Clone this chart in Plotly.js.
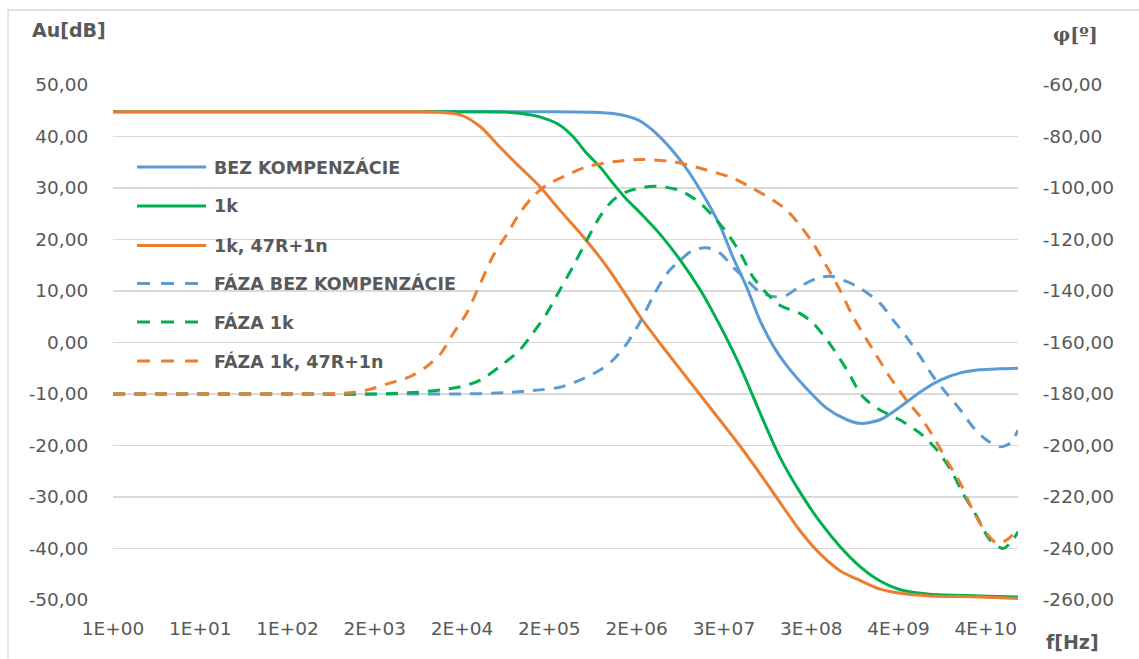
<!DOCTYPE html>
<html>
<head>
<meta charset="utf-8">
<script src="https://cdn.plot.ly/plotly-3.0.1.min.js"></script>
<style>html,body{margin:0;padding:0;background:#fff;}#chart{width:1139px;height:659px;}</style>
</head>
<body>
<div id="chart"></div>
<script>
// ---- data (x = category position along the frequency axis, one unit per tick label) ----
const freqLabels = ['1E+00','1E+01','1E+02','2E+03','2E+04','2E+05','2E+06','3E+07','3E+08','4E+09','4E+10'];
const freqPos = [0,1,2,3,4,5,6,7,8,9,10];

const seriesNames = ['BEZ KOMPENZÁCIE','1k','1k, 47R+1n','FÁZA BEZ KOMPENZÁCIE','FÁZA 1k','FÁZA 1k, 47R+1n'];

// Gain [dB]
const gainBezX = [0,1,2,3,4,5.0,5.5,5.75,5.9,6.04,6.23,6.50,6.73,6.96,7.10,7.26,7.41,7.57,7.72,7.95,8.18,8.41,8.56,8.79,9.02,9.25,9.48,9.71,9.93,10.16,10.37];
const gainBezY = [44.8,44.8,44.8,44.8,44.8,44.8,44.7,44.4,43.9,43.0,40.5,35.4,29.6,22.5,16.7,10.8,4.4,-0.8,-4.5,-9.0,-12.8,-15.0,-15.7,-15.0,-12.5,-9.6,-7.3,-5.9,-5.3,-5.1,-5.0];

const gain1kX = [0,1,2,3,4,4.5,4.66,4.89,5.12,5.27,5.43,5.58,5.73,5.89,6.04,6.27,6.50,6.73,6.88,7.04,7.19,7.33,7.41,7.64,7.87,8.10,8.33,8.56,8.79,9.02,9.36,9.93,10.37];
const gain1kY = [44.8,44.8,44.8,44.8,44.8,44.75,44.5,43.8,42.2,40.0,36.7,34.1,30.9,27.7,25.2,21.0,16.0,10.2,5.7,0.5,-4.8,-10.3,-13.5,-22.2,-29.0,-34.8,-39.6,-43.5,-46.3,-48.0,-48.9,-49.2,-49.4];

const gainRcX = [0,1,2,3,3.5,3.75,3.98,4.21,4.43,4.66,4.89,5.12,5.35,5.66,5.89,6.04,6.27,6.72,7.18,7.49,7.64,7.87,8.10,8.33,8.56,8.79,9.02,9.36,9.93,10.37];
const gainRcY = [44.8,44.8,44.8,44.8,44.8,44.7,44.2,41.9,38.0,34.1,30.3,25.7,21.3,14.7,8.9,5.0,-0.2,-10.0,-20.0,-27.3,-31.0,-36.5,-41.0,-44.3,-46.2,-47.9,-48.7,-49.2,-49.4,-49.7];

// Phase [deg]
const phBezX = [0,1,2,3,4,4.5,4.89,5.12,5.35,5.58,5.73,5.89,6.04,6.19,6.35,6.50,6.65,6.80,6.96,7.10,7.26,7.41,7.57,7.72,7.87,8.10,8.25,8.41,8.56,8.79,8.94,9.09,9.25,9.40,9.55,9.71,9.85,10.01,10.16,10.28,10.37];
const phBezY = [-180,-180,-180,-180,-180,-179.5,-178.4,-177.4,-174.6,-170.7,-166.8,-160.3,-152.0,-142.0,-133.1,-128.0,-124.1,-123.2,-125.4,-130.6,-135.7,-140.3,-142.2,-141.6,-138.3,-134.7,-134.4,-136.4,-138.9,-144.8,-151.3,-157.7,-165.5,-173.3,-179.7,-186.2,-192.7,-197.9,-200.5,-199.1,-194.0];

const ph1kX = [0,1,2,3,3.5,3.75,3.98,4.21,4.43,4.66,4.81,4.97,5.12,5.27,5.43,5.58,5.73,5.89,6.04,6.15,6.27,6.50,6.73,6.88,7.04,7.19,7.33,7.49,7.64,7.87,8.02,8.21,8.41,8.59,8.79,9.02,9.25,9.44,9.60,9.74,9.90,10.05,10.20,10.31,10.37];
const ph1kY = [-180,-180,-180,-180,-179.3,-178.4,-177.2,-174.6,-169.4,-162.9,-156.4,-148.7,-139.6,-130.6,-120.2,-111.1,-104.7,-101.4,-100.0,-99.4,-99.4,-101.0,-105.9,-111.1,-117.6,-125.4,-134.4,-140.9,-145.5,-148.7,-152.4,-160.3,-170.7,-181.0,-186.2,-190.1,-195.3,-201.7,-209.5,-218.6,-227.7,-236.7,-240.0,-236.7,-233.5];

const phRcX = [0,1,2,2.33,2.72,2.94,3.17,3.40,3.59,3.75,3.90,4.05,4.21,4.35,4.52,4.66,4.81,4.97,5.20,5.43,5.73,6.04,6.42,6.80,7.10,7.33,7.56,7.72,7.87,8.02,8.18,8.33,8.48,8.71,8.90,9.09,9.25,9.40,9.55,9.71,9.85,10.01,10.13,10.24,10.36];
const phRcY = [-180,-180,-180,-180,-179.5,-178.2,-175.8,-173.3,-169.4,-164.5,-156.4,-148.7,-137.0,-126.7,-117.6,-109.8,-103.4,-98.8,-95.0,-91.7,-89.8,-88.9,-89.8,-93.0,-96.1,-100.1,-104.7,-108.6,-114.4,-121.4,-130.6,-139.6,-150.0,-162.9,-173.3,-182.3,-188.8,-196.6,-205.6,-214.7,-225.0,-234.1,-238.0,-236.7,-232.8];

const gainTicks = [-50,-40,-30,-20,-10,0,10,20,30,40,50];
const phaseTicks = [-260,-240,-220,-200,-180,-160,-140,-120,-100,-80,-60];

// ---- styling ----
const BLUE = '#5B9BD5', GREEN = '#00B050', ORANGE = '#ED7D31';
const TXT = '#595959';
const FONT = 'DejaVu Sans, sans-serif';
const fmt = v => v.toFixed(2).replace('.', ',');

const colors = [BLUE, GREEN, ORANGE, BLUE, GREEN, ORANGE];
const xs = [gainBezX, gain1kX, gainRcX, phBezX, ph1kX, phRcX];
const ys = [gainBezY, gain1kY, gainRcY, phBezY, ph1kY, phRcY];

const traces = seriesNames.map((name, i) => ({
  x: xs[i], y: ys[i], name: name, type: 'scatter', mode: 'lines',
  yaxis: i < 3 ? 'y' : 'y2',
  line: {color: colors[i], width: 3, shape: 'spline', smoothing: 0.8, dash: i < 3 ? 'solid' : '12px,9px'},
  hoverinfo: 'x+y+name', showlegend: false
}));

// plot area in pixels: x 113..1018, y 85..600
const L = 113, R = 1018, T = 85, B = 600;
const px = v => (v - L) / (R - L);
const py = v => (B - v) / (B - T);

const shapes = [{
  type: 'rect', xref: 'paper', yref: 'paper',
  x0: px(8), x1: px(1150), y0: py(10), y1: py(670),
  line: {color: '#D9D9D9', width: 1.3}, fillcolor: 'rgba(0,0,0,0)', layer: 'below'
}];
const annotations = [];
const legY = [167, 206, 245.5, 283.5, 322, 361];
seriesNames.forEach((name, i) => {
  const dashed = i >= 3;
  shapes.push({
    type: 'line', xref: 'paper', yref: 'paper',
    x0: px(137), x1: px(dashed ? 198 : 206), y0: py(legY[i]), y1: py(legY[i]),
    line: {color: colors[i], width: 3, dash: dashed ? '13px,11px' : 'solid'}
  });
  annotations.push({
    xref: 'paper', yref: 'paper', x: px(212), y: py(legY[i]),
    xanchor: 'left', yanchor: 'middle', showarrow: false, text: name,
    font: {family: FONT, size: 17.5, color: TXT, weight: 'bold'}
  });
});
annotations.push(
  {xref: 'paper', yref: 'paper', x: px(69), y: py(30), xanchor: 'center', yanchor: 'middle', showarrow: false,
   text: '<b>Au[dB]</b>', font: {family: FONT, size: 19, color: TXT}},
  {xref: 'paper', yref: 'paper', x: px(1075), y: py(34), xanchor: 'center', yanchor: 'middle', showarrow: false,
   text: '<b>φ[º]</b>', font: {family: 'DejaVu Serif, serif', size: 19, color: TXT}},
  {xref: 'paper', yref: 'paper', x: px(1072), y: py(642), xanchor: 'center', yanchor: 'middle', showarrow: false,
   text: '<b>f[Hz]</b>', font: {family: FONT, size: 19, color: TXT}}
);

const tickFont = {family: FONT, size: 18.5, color: TXT};
const layout = {
  width: 1139, height: 659,
  margin: {l: L, r: 1139 - R, t: T, b: 659 - B, pad: 0},
  paper_bgcolor: '#fff', plot_bgcolor: '#fff',
  showlegend: false,
  xaxis: {
    range: [0, 10.37], tickmode: 'array', tickvals: freqPos, ticktext: freqLabels,
    showgrid: false, zeroline: false, showline: false,
    ticks: 'outside', ticklen: 12, tickcolor: 'rgba(0,0,0,0)', tickfont: tickFont
  },
  yaxis: {
    range: [-50, 50], tickmode: 'array', tickvals: gainTicks, ticktext: gainTicks.map(fmt),
    showgrid: true, gridcolor: '#D9D9D9', gridwidth: 1.5, zeroline: false, showline: false,
    ticks: 'outside', ticklen: 20, tickcolor: 'rgba(0,0,0,0)', tickfont: tickFont
  },
  yaxis2: {
    range: [-260, -60], overlaying: 'y', side: 'right', tickmode: 'array',
    tickvals: phaseTicks, ticktext: phaseTicks.map(fmt),
    showgrid: false, zeroline: false, showline: false,
    ticks: 'outside', ticklen: 20, tickcolor: 'rgba(0,0,0,0)', tickfont: tickFont
  },
  shapes: shapes,
  annotations: annotations
};

Plotly.newPlot('chart', traces, layout, {displayModeBar: false, staticPlot: true});
</script>
</body>
</html>
